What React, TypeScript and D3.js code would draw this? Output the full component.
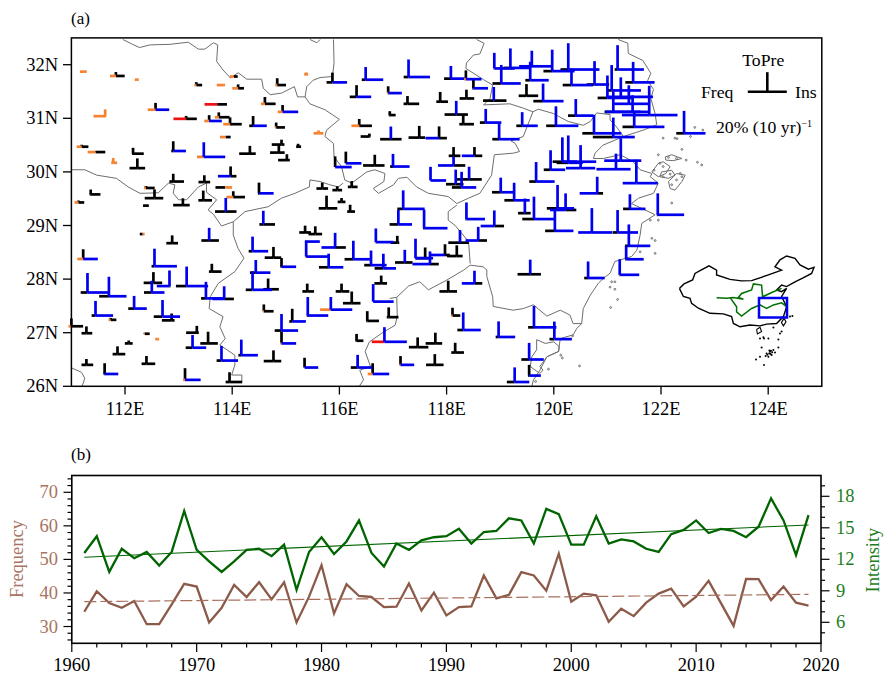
import React from 'react';
import * as d3 from 'd3';

type Pt = [number, number];
// lon, lat, freq, ins, toPre trend (% per decade), significance class of each arm
type Station = [number, number, number, number, number, string];

const years = d3.range(1961, 2020);
const frequency = [34.4,40.5,37.0,35.6,37.6,30.7,30.7,36.6,42.7,41.9,31.2,35.6,42.4,38.8,43.2,38.1,43.2,31.2,38.9,48.3,33.9,42.6,39.1,38.8,35.8,35.9,42.8,34.8,40.1,33.3,35.8,36.0,45.2,38.4,39.4,46.2,45.2,40.7,51.7,37.4,39.8,39.3,31.4,35.3,33.1,37.1,39.8,41.3,36.0,38.9,43.6,36.9,30.2,44.2,44.1,37.9,41.9,37.1,36.2];
const intensity = [12.6,14.2,10.8,13.0,12.1,12.7,11.4,12.7,16.6,12.9,11.8,10.8,11.8,12.9,13.0,12.3,13.4,9.1,12.7,14.1,12.5,13.7,15.7,12.6,11.3,13.5,12.9,13.8,14.1,14.2,14.9,13.5,14.6,14.7,15.9,15.7,13.5,16.8,16.3,13.4,13.4,16.1,13.5,13.9,13.7,13.0,12.7,14.4,14.8,15.7,14.5,14.9,14.7,14.1,15.1,17.8,15.7,12.4,16.2];
const frequencyTrend = [37.4, 39.6];
const intensityTrend = [12.2, 15.27];

const latTicks = [26, 27, 28, 29, 30, 31, 32];
const lonTicks = [112, 114, 116, 118, 120, 122, 124];

const stations: Station[] = [
  [111.25,31.87,5,2,1,'222'],[111.83,31.79,6,9,4,'200'],[112.22,31.72,2,2,1,'222'],[113.33,31.62,2,6,3,'200'],
  [113.83,31.62,6.5,2,0,'222'],[114.11,31.56,6,6,4,'200'],[114.03,31.78,4,4,1,'200'],[114.84,31.62,2,9,7,'200'],
  [115.38,31.82,2,2,2,'222'],[114.61,31.27,4,11,7,'200'],[114.94,31.12,5,16,7,'210'],[112.57,31.16,8,14,7,'210'],
  [111.63,31.04,12,1,7,'222'],[113.14,30.99,13,11,3,'300'],[113.72,31.26,13,10,0,'300'],[113.57,30.95,5,13,6,'210'],
  [113.75,31.02,4,11,5,'200'],[113.96,30.89,7,12,7,'200'],[114.39,30.86,4,14,10,'010'],[114.82,30.83,1,9,5,'200'],
  [113.88,30.65,6,5,1,'200'],[111.19,30.47,5,7,2,'200'],[111.45,30.37,8,10,1,'200'],[111.78,30.17,2,4,5,'222'],
  [112.15,30.34,1,11,6,'000'],[112.23,30.07,8,8,10,'000'],[112.90,30.39,2,13,10,'010'],[113.47,30.28,7,22,15,'211'],
  [114.33,30.34,11,6,8,'000'],[114.92,30.51,10,3,5,'000'],[114.87,30.36,9,6,8,'000'],[115.23,30.47,2,3,3,'000'],
  [115.02,30.22,9,3,6,'000'],[112.90,29.82,4,11,8,'000'],[113.48,29.81,6,6,7,'000'],[113.97,29.92,13,6,10,'100'],
  [113.87,29.71,10,7,0,'020'],[114.50,29.60,1,15,11,'010'],[114.02,29.53,7,12,6,'200'],[111.36,29.58,1,10,5,'000'],
  [112.55,29.51,10,9,9,'000'],[112.39,29.70,2,9,2,'200'],[111.13,29.43,4,6,2,'200'],[112.39,29.37,3,3,1,'000'],
  [113.08,29.38,10,7,7,'000'],[113.46,29.47,5,9,10,'000'],
  [113.88,29.26,11,11,14,'001'],[114.58,29.02,4,12,14,'001'],[112.33,28.84,3,2,0,'020'],[112.88,28.67,6,6,8,'000'],
  [113.57,28.72,8,10,13,'001'],[111.22,28.375,6,15,10,'210'],[114.38,28.52,4,16,15,'011'],[112.55,28.24,3,23,18,'011'],
  [114.77,28.40,9,8,11,'000'],[114.92,28.23,1,15,9,'010'],[113.62,28.14,3,10,8,'000'],[115.38,28.42,1,23,16,'211'],
  [115.38,28.70,1,14,1,'011'],[115.36,28.87,6,6,7,'000'],[115.55,28.84,7,7,8,'000'],[112.53,27.93,10,9,11,'000'],
  [112.83,27.87,13,1,16,'101'],[113.15,27.87,11,22,20,'011'],[112.50,27.75,8,13,12,'011'],[111.30,27.75,7,22,20,'011'],
  [111.70,27.68,10,18,20,'011'],[113.51,27.64,5,19,17,'011'],[113.85,27.63,12,10,13,'101'],[114.38,27.80,7,20,19,'011'],
  [114.44,28.12,6,15,13,'011'],[114.67,27.81,5,11,11,'000'],[115.40,27.77,5,7,8,'000'],[112.17,27.45,6,13,13,'011'],
  [111.45,27.32,4,18,15,'011'],[112.70,27.30,9,18,17,'011'],[112.87,27.23,10,3,7,'000'],[111.73,27.24,2,6,2,'200'],
  [114.59,27.40,1,10,7,'200'],[115.41,27.32,1,21,19,'011'],[115.12,27.21,3,14,13,'010'],[114.92,27.04,7,17,17,'011'],
  [114.92,26.80,1,15,12,'210'],[111.00,27.12,3,12,8,'200'],[111.28,26.99,5,6,7,'000'],[113.34,27.00,11,2,7,'000'],
  [113.26,26.72,7,14,13,'011'],[113.55,26.80,8,10,12,'000'],[112.37,26.98,1,5,1,'200'],[112.60,26.88,2,2,0,'222'],
  [112.07,26.80,4,4,3,'000'],[111.86,26.60,5,8,8,'000'],[112.40,26.42,5,9,8,'000'],[111.28,26.40,5,7,6,'000'],
  [111.62,26.23,1,14,11,'010'],[113.12,26.12,2,16,12,'210'],[113.80,26.48,5,17,15,'011'],[114.17,26.58,3,17,16,'011'],
  [114.77,26.47,10,8,11,'000'],[115.35,26.35,0,14,10,'010'],[113.95,26.08,4,13,10,'000'],
  [115.87,31.67,6,15,10,'010'],[116.49,31.72,4,18,13,'011'],[117.29,31.77,5,22,18,'011'],[118.08,31.74,7,15,13,'011'],
  [118.36,31.73,2,16,9,'210'],[118.50,31.56,1,15,9,'010'],[116.32,31.40,7,15,12,'010'],[116.91,31.47,1,14,7,'210'],
  [117.27,31.27,4,12,8,'000'],[117.88,31.31,4,8,10,'000'],[118.37,31.37,7,8,9,'000'],[116.94,31.06,1,6,4,'000'],
  [118.18,31.07,12,12,14,'001'],[118.31,30.89,4,11,10,'000'],[116.37,30.86,8,13,7,'200'],[116.56,30.66,9,1,3,'000'],
  [116.96,30.61,11,11,13,'001'],[117.49,30.64,11,6,12,'000'],[117.86,30.63,14,8,12,'100'],[115.61,30.72,5,5,3,'222'],
  [115.92,30.09,0,17,11,'010'],[116.12,30.16,0,16,12,'010'],[116.66,30.12,12,10,11,'000'],[117.00,30.10,3,17,13,'011'],
  [118.13,30.12,16,12,9,'101'],[118.13,30.30,5,7,9,'000'],[118.52,30.30,13,8,9,'100'],[117.70,29.84,0,16,14,'011'],
  [118.17,29.77,10,8,15,'001'],[118.28,29.71,10,15,16,'011'],[118.42,29.86,13,13,13,'001'],[115.68,29.69,6,6,6,'000'],
  [115.96,29.66,5,5,4,'000'],[116.23,29.72,4,6,6,'000'],[115.76,29.32,8,11,13,'000'],[116.04,29.44,4,4,4,'000'],
  [116.20,29.26,3,5,7,'000'],[117.19,29.31,6,22,19,'011'],[119.01,29.62,9,13,15,'011'],[119.26,29.47,10,16,18,'011'],
  [116.26,28.37,9,17,19,'011'],[116.59,28.26,7,16,15,'011'],[116.82,28.20,9,13,15,'011'],[116.68,28.69,1,18,14,'211'],
  [117.08,28.68,7,2,7,'000'],[117.22,28.31,10,8,13,'001'],[117.42,28.39,0,18,20,'011'],[117.60,28.39,10,6,11,'000'],
  [117.69,28.28,18,9,13,'101'],[117.97,28.45,15,5,11,'100'],[118.19,28.43,10,6,11,'000'],[118.25,28.68,12,9,13,'001'],
  [118.59,28.72,13,9,14,'101'],[118.89,28.99,14,10,16,'101'],[118.37,29.12,1,19,17,'011'],[117.10,29.02,9,14,15,'011'],
  [117.58,28.95,1,24,19,'011'],[115.80,28.22,10,15,14,'011'],[115.92,28.59,14,11,15,'101'],[116.78,27.92,7,6,8,'000'],
  [116.04,27.77,6,8,8,'000'],[116.23,27.55,9,9,12,'000'],[115.84,27.43,11,22,13,'211'],[116.63,27.58,0,21,18,'011'],
  [116.52,27.22,1,12,10,'000'],[116.92,27.29,2,10,10,'000'],[116.32,26.85,1,7,7,'000'],[116.84,26.83,13,23,15,'311'],
  [117.46,26.73,9,11,10,'000'],[117.79,26.80,10,7,11,'000'],[118.11,27.32,1,8,8,'200'],[118.31,27.05,6,18,18,'011'],
  [118.97,26.92,3,17,16,'011'],[118.03,27.77,9,9,11,'000'],[118.52,27.92,13,8,13,'101'],[119.63,27.10,6,23,22,'011'],
  [120.01,26.88,5,18,18,'011'],[118.16,26.63,4,9,10,'000'],[117.78,26.40,9,9,11,'000'],[117.14,26.40,1,14,9,'210'],
  [116.34,26.35,7,15,13,'011'],[116.62,26.23,5,17,11,'210'],[119.54,26.50,8,15,17,'011'],[119.54,26.20,1,12,11,'010'],
  [119.27,26.08,8,15,15,'011'],
  [118.89,31.93,1,21,16,'211'],[119.19,31.94,7,20,20,'011'],[119.59,31.97,13,20,16,'111'],[119.97,31.88,9,23,22,'011'],
  [119.02,31.65,9,20,19,'011'],[119.56,31.71,5,19,19,'011'],[119.49,31.42,8,12,12,'000'],[118.88,31.33,11,13,14,'001'],
  [119.80,31.32,10,21,18,'011'],[120.27,31.91,8,32,27,'011'],[120.33,31.62,9,22,17,'011'],[120.76,31.63,8,15,24,'011'],
  [121.00,31.38,10,25,23,'011'],[118.73,30.92,6,16,14,'011'],[118.98,30.61,7,21,16,'011'],[119.41,30.86,6,16,14,'011'],
  [120.04,30.86,10,23,20,'011'],[120.41,31.05,8,18,17,'011'],[120.75,30.72,12,28,19,'011'],[121.19,31.91,3,27,25,'011'],
  [121.48,31.67,8,22,21,'011'],[121.08,31.52,5,30,26,'011'],[121.25,31.40,15,33,20,'111'],[121.40,31.27,15,20,19,'111'],
  [121.47,31.12,28,17,17,'111'],[121.11,31.12,9,28,21,'011'],[121.78,31.06,28,29,30,'111'],[121.50,30.84,12,31,15,'011'],
  [122.43,30.72,8,22,23,'011'],[121.11,30.65,21,22,20,'011'],[121.25,30.21,17,21,23,'111'],[121.16,30.05,20,15,16,'111'],
  [121.54,29.79,14,22,24,'111'],[120.16,30.19,10,15,25,'011'],[120.27,30.17,12,15,28,'011'],[120.50,30.19,18,16,17,'111'],
  [120.50,30.07,15,15,6,'111'],[119.94,30.04,7,15,20,'011'],[119.67,29.82,7,19,20,'011'],[120.81,29.60,18,6,17,'101'],
  [120.07,29.32,11,17,24,'011'],[120.22,29.29,16,11,17,'101'],[120.02,28.90,10,19,22,'011'],[119.63,29.12,12,21,23,'011'],
  [119.46,29.23,7,6,15,'001'],[120.71,28.87,14,21,25,'111'],[121.19,28.87,5,21,23,'011'],[121.42,29.31,7,16,15,'011'],
  [121.94,29.20,1,27,22,'011'],[121.40,28.62,4,22,22,'011'],[121.35,28.37,1,18,14,'011'],[121.23,28.08,1,20,16,'211'],
  [120.64,28.02,4,17,17,'011'],[119.56,28.09,13,11,15,'001'],
];

// province borders and coast, lon/lat
const borders: Pt[][] = [
  [[111.96,32.47],[112.12,32.39],[112.27,32.32],[112.47,32.37],[112.84,32.38],[113.18,32.42],[113.37,32.29],[113.49,32.29],[113.65,32.41],[113.73,32.37],[113.71,32.06],[113.83,31.9],[113.97,31.75],[114.11,31.85],[114.27,31.73],[114.55,31.73],[114.58,31.56],[114.71,31.44],[114.92,31.47],[115.16,31.59],[115.22,31.4],[115.36,31.4],[115.39,31.59],[115.51,31.71],[115.64,31.76],[115.87,31.78],[115.9,32.03],[115.89,32.47]],
  [[115.36,31.4],[115.45,31.27],[115.73,31.16],[116.0,30.98],[115.76,30.78],[115.73,30.66],[115.89,30.53],[115.9,30.28],[116.04,30.1],[116.1,29.85],[116.23,29.79],[116.51,30.0],[116.66,30.04],[116.85,29.97],[116.83,29.82],[116.63,29.69],[116.73,29.6],[117.01,29.76],[117.1,29.88],[117.26,29.9],[117.44,29.72],[117.66,29.6],[118.03,29.54],[118.19,29.41],[118.41,29.51],[118.62,29.6],[118.84,29.94],[118.89,30.32],[119.25,30.35],[119.36,30.38],[119.28,30.53],[119.2,30.58],[119.43,30.66],[119.61,31.12]],
  [[118.56,32.47],[118.7,32.4],[118.62,32.2],[118.5,32.18],[118.37,32.03],[118.36,31.93],[118.69,31.72],[118.86,31.62],[118.81,31.37],[118.69,31.25],[119.18,31.27],[119.43,31.19],[119.61,31.12],[119.71,31.17],[119.99,31.09],[120.27,30.94],[120.55,30.87],[120.68,30.94],[120.8,31.1],[121.05,31.07],[121.05,30.97],[121.17,30.84],[121.3,30.66]],
  [[121.2,32.47],[121.38,32.4],[121.39,32.21],[121.66,32.08],[121.81,31.84],[121.75,31.7],[121.86,31.54],[121.81,31.37],[121.89,31.09],[121.92,30.88],[121.67,30.78],[121.3,30.66],[120.92,30.5],[120.77,30.35],[120.74,30.25],[120.92,30.25],[121.24,30.32],[121.48,30.19],[121.61,30.04],[121.83,29.97],[121.8,29.91],[121.95,29.79],[121.86,29.6],[121.58,29.51],[121.45,29.41],[121.89,29.2],[121.64,29.04],[121.61,28.82],[121.55,28.54],[121.45,28.42],[121.14,28.33],[121.05,28.11],[120.92,28.01],[120.83,27.92],[120.68,27.7],[120.55,27.45],[120.52,27.17],[120.43,27.08],[120.36,26.96],[120.12,26.89],[120.09,26.65],[119.87,26.55],[119.74,26.3],[119.62,26.12],[119.59,26.0]],
  [[120.52,27.17],[120.36,27.17],[120.3,27.33],[120.12,27.42],[119.87,27.31],[119.62,27.52],[119.43,27.45],[119.24,27.42],[118.87,27.49],[118.86,27.67],[118.75,28.05],[118.75,28.17],[118.68,28.23],[118.44,28.26],[118.32,28.17],[118.0,27.98],[117.66,27.8],[117.5,27.95],[117.29,27.87],[117.07,27.66],[116.94,27.64]],
  [[117.07,27.66],[117.08,27.3],[117.04,27.14],[116.79,26.99],[116.56,26.83],[116.48,26.65],[116.58,26.37],[116.38,26.3],[116.45,26.12],[116.37,26.0]],
  [[118.19,29.38],[118.03,29.26],[118.03,29.1],[118.16,29.0],[118.41,28.7],[118.44,28.29]],
  [[111.0,30.04],[111.25,30.04],[111.47,29.94],[111.84,29.88],[112.06,29.72],[112.28,29.6],[112.62,29.61],[112.81,29.79],[112.93,29.76],[112.9,29.6],[113.0,29.48],[113.15,29.48],[113.37,29.72],[113.52,29.79],[113.52,29.62],[113.71,29.48],[113.55,29.29],[113.65,29.21],[113.8,28.99],[114.02,29.07],[114.24,29.26],[114.67,29.35],[114.92,29.51],[115.17,29.6],[115.44,29.72],[115.45,29.85],[115.64,29.82],[115.82,29.76],[115.98,29.72],[116.07,29.79]],
  [[114.02,29.07],[114.02,28.82],[114.11,28.57],[114.22,28.39],[114.05,28.14],[113.74,27.92],[113.59,27.67],[113.57,27.45],[113.83,27.3],[113.77,27.11],[113.87,26.89],[113.77,26.77],[114.05,26.58],[114.05,26.4],[113.99,26.21],[114.18,26.21],[114.18,26.09],[113.93,26.07]],
  [[111.01,26.34],[111.19,26.26],[111.25,26.15],[111.2,26.0]],
  [[115.45,32.47],[115.58,32.41],[115.64,32.47]],
  // Zhoushan islands and Sansha bay outlines
  [[122.08,30.28],[122.2,30.32],[122.39,30.25],[122.23,30.21],[122.09,30.22],[122.08,30.28]],
  [[121.83,30.0],[121.95,30.16],[122.04,30.19],[122.17,30.1],[122.09,29.97],[121.95,29.91],[121.83,30.0]],
  [[122.01,30.0],[122.2,30.03],[122.26,29.94],[122.14,29.88],[121.98,29.91],[122.01,30.0]],
  [[122.14,29.82],[122.29,29.97],[122.45,29.94],[122.39,29.82],[122.26,29.66],[122.17,29.69],[122.14,29.82]],
  [[119.68,26.87],[119.84,26.8],[120.0,26.83],[120.1,26.74],[120.09,26.65],[119.87,26.55],[119.74,26.37],[119.8,26.3],[119.74,26.24],[119.56,26.37],[119.59,26.55],[119.68,26.68],[119.68,26.87]],
];

const islets: Pt[] = [
  [122.63,30.83],[122.78,30.78],[122.55,30.66],[122.04,30.63],[122.3,30.62],[122.39,30.42],[122.14,30.27],[122.29,30.25],[122.47,30.22],[122.68,30.18],[122.76,30.13],[121.95,30.32],[121.98,30.16],[121.87,30.03],[122.04,30.1],[122.17,29.96],[122.36,29.97],[122.29,29.85],[122.39,29.91],[122.2,29.76],[122.04,29.91],[122.2,29.42],[122.26,30.63],
  [121.83,28.76],[121.89,28.72],[121.89,28.48],[121.61,28.51],[121.08,27.95],[121.14,27.95],[121.05,27.85],[121.14,27.81],[121.19,27.62],[121.06,27.47],[120.35,26.94],[120.13,26.58],[120.48,26.38],[121.8,29.1],[121.95,29.1],[119.9,26.32],[120.16,26.53],[119.66,26.09],
];

// inset map of China, lon/lat in its own stretched frame
const chinaOutline: Pt[] = [[71.2,35.7],[73.5,37.2],[77.8,38.5],[79,40.7],[81.5,41.6],[86,43.2],[89.8,41.8],[89.8,40.2],[96.5,38.7],[102.3,38.2],[107.3,38.3],[115.7,40.2],[122.3,41.8],[119,42.9],[121.5,45.2],[124.8,46.5],[129,45.7],[131.5,43.5],[135.7,42.1],[138.5,42.7],[137.3,40.7],[132.8,39.1],[129,37.9],[124.8,36.3],[122.3,36.8],[119.8,35.2],[122.3,34.6],[124.8,35.7],[122.3,33],[124.8,29.6],[123.2,26.3],[119.8,24],[114.8,23.8],[111.5,23.2],[106.5,23.5],[101.5,22.9],[98.2,24],[97.3,26.3],[93.2,27.2],[86.5,27.4],[80.7,29.1],[77.3,30.7],[76.5,32.4],[73.2,33],[71.2,35.7]];
const hainan: Pt[] = [[109.8,22],[111.5,22.7],[112.3,21.3],[110.2,20.5],[109.8,22]];
const taiwan: Pt[] = [[123.5,25.7],[124.5,24.6],[123.2,23.2],[122.2,24.3],[123.5,25.7]];
const seaIslands: Pt[] = [[113.2,19.4],[115.7,19],[120.7,18.7],[111.5,19],[118.2,22.7],[122.3,21.3],[126.5,26.3],[127.7,26.5],[121.5,20.7],[116.5,14.6],[114.8,14],[118.2,15.2],[117.3,13.5],[115.7,12.9],[113.5,10.2],[111.5,12.9],[109.5,12],[112.3,16],[120.7,16],[119,14.3],[116.8,13.8],[116.2,15],[114.3,13.2],[113.5,19],[117.6,14.4],[116.1,14],[115.2,13.6],[117,14.9]];
const riverNorth: Pt[] = [[89.8,32.6],[94.8,32.4],[98.2,32.7],[103.2,32.1],[100.7,32.7],[102.3,34],[107.3,35.2],[108.2,37.2],[112.3,36.8],[112.8,32.9],[118.2,34.6],[122.3,35.7]];
const riverSouth: Pt[] = [[96.5,32.7],[99.8,29.6],[99.8,27.9],[102.3,26.5],[107.3,29],[111.5,30.2],[114.8,29],[118.2,30.2],[122.3,30.9],[124.8,29.6]];

const classColor = ['#000', '#0000ee', '#f58231', '#ee1111'];
const FONT = '"Liberation Serif", serif';
const BROWN = '#8c5a48';
const BROWN_TEXT = '#a8735f';
const GREEN = '#006400';
const GREEN_TEXT = '#1d7d1d';

const lonScale = d3.scaleLinear().domain([111, 125]).range([71.4, 821.8]);
const latScale = d3.scaleLinear().domain([26, 32.5]).range([386.3, 37.9]);
const armScale = d3.scaleLinear().domain([0, 20]).range([0, 19.5]);
const insetX = d3.scaleLinear().domain([111, 125]).range([759, 787]);
const insetY = d3.scaleLinear().domain([26, 32.5]).range([317.5, 298]);

const yearScale = d3.scaleLinear().domain([1960, 2020]).range([71.8, 821]);
const freqScale = d3.scaleLinear().domain([25, 75]).range([643.3, 475.5]);
const insScale = d3.scaleLinear().domain([4, 20]).range([643.3, 475.3]);

const geoLine = d3.line<Pt>().x((d) => lonScale(d[0])).y((d) => latScale(d[1]));
const insetLine = d3.line<Pt>().x((d) => insetX(d[0])).y((d) => insetY(d[1]));
const freqLine = d3.line<number>().x((_, i) => yearScale(years[i])).y((d) => freqScale(d));
const insLine = d3.line<number>().x((_, i) => yearScale(years[i])).y((d) => insScale(d));

// one line per arm, black first so the coloured arms lie on top
const arms = stations.flatMap((s, i) => {
  const x = lonScale(s[0]);
  const y = latScale(s[1]);
  return [
    { key: `${i}f`, x1: x - armScale(s[2]), y1: y, x2: x, y2: y, c: +s[5][0] },
    { key: `${i}i`, x1: x, y1: y, x2: x + armScale(s[3]), y2: y, c: +s[5][1] },
    { key: `${i}p`, x1: x, y1: y, x2: x, y2: y - armScale(s[4]), c: +s[5][2] },
  ];
}).sort((a, b) => (a.c === 0 ? 0 : 1) - (b.c === 0 ? 0 : 1));

const App = () => {
  const legendX = 767.3;
  const legendY = 91.7;
  return (
    <svg width={884} height={677} style={{ position: 'absolute', left: 0, top: 0 }} fontFamily={FONT} fontSize={18.5}>
      <rect width={884} height={677} fill="#fff" />
      <text x={71} y={24} fontSize={17}>(a)</text>
      <text x={71} y={460} fontSize={17}>(b)</text>

      {/* panel a: borders */}
      <g fill="none" stroke="#6e6e6e" strokeWidth={1}>
        {borders.map((b, i) => <path key={i} d={geoLine(b) ?? ''} />)}
        {islets.map((d, i) => <circle key={i} cx={lonScale(d[0])} cy={latScale(d[1])} r={0.9} />)}
      </g>

      {/* trend glyphs */}
      <g strokeWidth={2.7}>
        {arms.map((a) => <line key={a.key} x1={a.x1} y1={a.y1} x2={a.x2} y2={a.y2} stroke={classColor[a.c]} />)}
      </g>

      <rect x={lonScale(111)} y={latScale(32.5)} width={lonScale(125) - lonScale(111)} height={latScale(26) - latScale(32.5)} fill="none" stroke="#000" strokeWidth={1.5} />
      {latTicks.map((t) => (
        <g key={t}>
          <line x1={63} x2={71.4} y1={latScale(t)} y2={latScale(t)} stroke="#000" strokeWidth={1.3} />
          <text x={58} y={latScale(t) + 6} textAnchor="end">{t}N</text>
        </g>
      ))}
      {lonTicks.map((t) => (
        <g key={t}>
          <line x1={lonScale(t)} x2={lonScale(t)} y1={386.3} y2={394.5} stroke="#000" strokeWidth={1.3} />
          <text x={lonScale(t)} y={415} textAnchor="middle">{t}E</text>
        </g>
      ))}

      {/* legend */}
      <text x={legendX - 4} y={66} textAnchor="middle" fontSize={17.7}>ToPre</text>
      <text x={701} y={98} fontSize={17.7}>Freq</text>
      <text x={795} y={98} fontSize={17.7}>Ins</text>
      <g stroke="#000" strokeWidth={2.6}>
        <line x1={legendX - armScale(20)} x2={legendX + armScale(20)} y1={legendY} y2={legendY} />
        <line x1={legendX} x2={legendX} y1={legendY} y2={legendY - armScale(20)} />
      </g>
      <text x={716} y={133} fontSize={17.7}>20% (10 yr)<tspan dy={-6} fontSize={10}>−1</tspan></text>

      {/* inset */}
      <g fill="none">
        <path d={insetLine(chinaOutline) ?? ''} stroke="#000" strokeWidth={1.4} />
        <path d={insetLine(hainan) ?? ''} stroke="#000" strokeWidth={1.1} />
        <path d={insetLine(taiwan) ?? ''} stroke="#000" strokeWidth={1.1} />
        <path d={insetLine(riverNorth) ?? ''} stroke="#007000" strokeWidth={1.5} />
        <path d={insetLine(riverSouth) ?? ''} stroke="#007000" strokeWidth={1.5} />
        <rect x={insetX(111)} y={insetY(32.5)} width={insetX(125) - insetX(111)} height={insetY(26) - insetY(32.5)} stroke="#0000ee" strokeWidth={2.5} />
      </g>
      {seaIslands.map((d, i) => <circle key={i} cx={insetX(d[0])} cy={insetY(d[1])} r={1} fill="#000" />)}

      {/* panel b */}
      <path d={freqLine(frequency) ?? ''} fill="none" stroke={BROWN} strokeWidth={2.3} />
      <path d={insLine(intensity) ?? ''} fill="none" stroke={GREEN} strokeWidth={2.3} />
      <line x1={yearScale(1961)} x2={yearScale(2019)} y1={freqScale(frequencyTrend[0])} y2={freqScale(frequencyTrend[1])} stroke="#a76f5e" strokeWidth={1.2} strokeDasharray="12 4" />
      <line x1={yearScale(1961)} x2={yearScale(2019)} y1={insScale(intensityTrend[0])} y2={insScale(intensityTrend[1])} stroke={GREEN} strokeWidth={1.1} />
      <rect x={yearScale(1960)} y={475.5} width={yearScale(2020) - yearScale(1960)} height={167.8} fill="none" stroke="#000" strokeWidth={1.6} />

      {d3.range(1960, 2021, 2).map((t) => (
        <line key={t} x1={yearScale(t)} x2={yearScale(t)} y1={643.3} y2={t % 10 === 0 ? 652 : 647.5} stroke="#000" strokeWidth={1.2} />
      ))}
      {d3.range(1960, 2021, 10).map((t) => (
        <text key={t} x={yearScale(t)} y={671} textAnchor="middle">{t}</text>
      ))}
      {d3.range(26, 75, 2).map((t) => (
        <line key={t} x1={t % 10 === 0 ? 63.5 : 67.5} x2={71.8} y1={freqScale(t)} y2={freqScale(t)} stroke="#000" strokeWidth={1.2} />
      ))}
      {[30, 40, 50, 60, 70].map((t) => (
        <text key={t} x={58} y={freqScale(t) + 6} textAnchor="end" fill={BROWN_TEXT}>{t}</text>
      ))}
      {d3.range(5, 20, 1).map((t) => (
        <line key={t} x1={821} x2={t % 3 === 0 ? 829.5 : 825} y1={insScale(t)} y2={insScale(t)} stroke="#000" strokeWidth={1.2} />
      ))}
      {[6, 9, 12, 15, 18].map((t) => (
        <text key={t} x={836} y={insScale(t) + 6} fill={GREEN_TEXT}>{t}</text>
      ))}
      <text transform="translate(23,559) rotate(-90)" textAnchor="middle" fill={BROWN_TEXT}>Frequency</text>
      <text transform="translate(879,560) rotate(-90)" textAnchor="middle" fill={GREEN_TEXT}>Intensity</text>
    </svg>
  );
};

export default App;
